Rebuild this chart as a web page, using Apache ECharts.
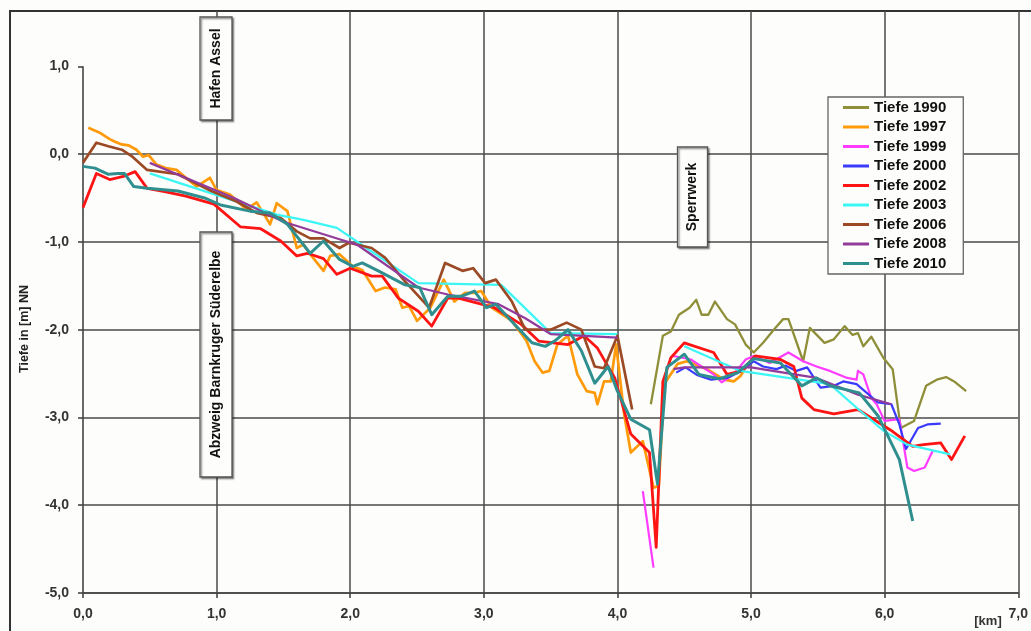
<!DOCTYPE html>
<html><head><meta charset="utf-8">
<script src="https://cdn.jsdelivr.net/npm/echarts@6/dist/echarts.min.js"></script>
<style>html,body{margin:0;padding:0;background:#fdfdfb}#c{width:1031px;height:631px}</style>
</head><body><div id="c"></div>
<script>
// ---- data (x in km, y = depth in m NN) ----
const xTicks = [0, 1, 2, 3, 4, 5, 6, 7];
const yTicks = [-5, -4, -3, -2, -1, 0, 1];
const seriesNames = ['Tiefe 1990','Tiefe 1997','Tiefe 1999','Tiefe 2000','Tiefe 2002','Tiefe 2003','Tiefe 2006','Tiefe 2008','Tiefe 2010'];

const t1990 = [[4.25,-2.85],[4.34,-2.07],[4.40,-2.02],[4.46,-1.83],[4.54,-1.75],[4.59,-1.66],[4.63,-1.83],[4.68,-1.83],[4.73,-1.68],[4.82,-1.88],[4.88,-1.94],[4.96,-2.17],[5.02,-2.26],[5.09,-2.15],[5.17,-2.00],[5.24,-1.88],[5.28,-1.88],[5.39,-2.36],[5.44,-1.98],[5.55,-2.15],[5.62,-2.11],[5.70,-1.96],[5.76,-2.06],[5.80,-2.04],[5.84,-2.19],[5.90,-2.08],[5.99,-2.32],[6.06,-2.45],[6.12,-3.12],[6.22,-3.04],[6.31,-2.64],[6.39,-2.57],[6.46,-2.54],[6.52,-2.59],[6.61,-2.70]];
const t1997 = [[0.04,0.30],[0.13,0.24],[0.20,0.17],[0.24,0.14],[0.29,0.11],[0.34,0.10],[0.40,0.05],[0.45,-0.03],[0.49,-0.01],[0.55,-0.12],[0.62,-0.16],[0.70,-0.18],[0.77,-0.27],[0.85,-0.37],[0.95,-0.27],[1.00,-0.41],[1.10,-0.46],[1.16,-0.54],[1.22,-0.63],[1.30,-0.55],[1.40,-0.80],[1.45,-0.56],[1.53,-0.65],[1.60,-1.07],[1.65,-1.03],[1.70,-1.14],[1.80,-1.33],[1.85,-1.16],[1.92,-1.14],[2.02,-1.28],[2.09,-1.32],[2.19,-1.56],[2.26,-1.52],[2.34,-1.54],[2.39,-1.75],[2.44,-1.73],[2.50,-1.90],[2.60,-1.75],[2.70,-1.43],[2.78,-1.68],[2.86,-1.58],[2.93,-1.58],[2.98,-1.56],[3.06,-1.75],[3.21,-1.90],[3.32,-2.13],[3.38,-2.36],[3.44,-2.49],[3.49,-2.47],[3.55,-2.17],[3.63,-2.07],[3.70,-2.51],[3.77,-2.70],[3.83,-2.72],[3.85,-2.85],[3.90,-2.59],[3.95,-2.59],[3.99,-2.17],[4.05,-2.96],[4.10,-3.40],[4.19,-3.27],[4.27,-3.80],[4.31,-3.78],[4.35,-2.62],[4.45,-2.39],[4.52,-2.36],[4.67,-2.45],[4.80,-2.57],[4.87,-2.59],[4.92,-2.53],[4.98,-2.38]];
const t1999 = [[4.19,-3.84],[4.27,-4.71],[4.35,'-'],[4.42,-2.30],[4.55,-2.34],[4.72,-2.51],[4.78,-2.60],[4.87,-2.51],[4.96,-2.34],[5.02,-2.30],[5.14,-2.38],[5.28,-2.26],[5.39,-2.36],[5.49,-2.42],[5.59,-2.47],[5.72,-2.55],[5.79,-2.57],[5.80,-2.47],[5.84,-2.51],[5.90,-2.78],[5.94,-2.85],[6.00,-3.04],[6.11,-3.02],[6.17,-3.57],[6.22,-3.61],[6.30,-3.57],[6.36,-3.38]];
const t2000 = [[4.44,-2.49],[4.51,-2.43],[4.60,-2.52],[4.70,-2.57],[4.82,-2.55],[4.93,-2.47],[5.02,-2.36],[5.09,-2.42],[5.19,-2.45],[5.26,-2.41],[5.34,-2.47],[5.42,-2.43],[5.52,-2.66],[5.62,-2.64],[5.69,-2.59],[5.79,-2.62],[5.95,-2.83],[6.05,-2.85],[6.11,-3.08],[6.16,-3.36],[6.25,-3.12],[6.32,-3.08],[6.42,-3.07]];
const t2002 = [[0.00,-0.61],[0.10,-0.22],[0.20,-0.29],[0.31,-0.25],[0.39,-0.20],[0.48,-0.39],[0.62,-0.43],[0.77,-0.48],[0.98,-0.57],[1.18,-0.83],[1.33,-0.85],[1.48,-0.99],[1.60,-1.16],[1.68,-1.13],[1.80,-1.19],[1.90,-1.37],[2.00,-1.30],[2.16,-1.39],[2.24,-1.39],[2.36,-1.64],[2.51,-1.79],[2.61,-1.96],[2.73,-1.64],[2.81,-1.64],[2.96,-1.70],[3.08,-1.75],[3.28,-1.94],[3.41,-2.13],[3.63,-2.17],[3.75,-2.07],[3.85,-2.21],[3.98,-2.55],[4.10,-3.19],[4.24,-3.40],[4.29,-4.48],[4.34,-2.59],[4.40,-2.32],[4.50,-2.15],[4.72,-2.26],[4.82,-2.51],[4.93,-2.47],[5.03,-2.30],[5.22,-2.34],[5.32,-2.42],[5.38,-2.78],[5.47,-2.91],[5.62,-2.96],[5.80,-2.91],[6.04,-3.14],[6.21,-3.33],[6.29,-3.31],[6.42,-3.29],[6.50,-3.48],[6.60,-3.21]];
const t2003 = [[0.50,-0.22],[1.45,-0.69],[1.65,-0.75],[1.90,-0.84],[2.16,-1.11],[2.51,-1.47],[3.13,-1.49],[3.46,-1.98],[3.50,-2.04],[4.00,-2.05],[4.25,'-'],[4.50,-2.19],[4.92,-2.47],[5.59,-2.62],[5.79,-2.89],[5.99,-3.15],[6.17,-3.31],[6.49,-3.42]];
const t2006 = [[0.00,-0.10],[0.10,0.13],[0.19,0.09],[0.29,0.05],[0.37,-0.03],[0.48,-0.18],[0.71,-0.23],[0.96,-0.42],[1.15,-0.54],[1.30,-0.67],[1.48,-0.73],[1.60,-0.88],[1.70,-0.96],[1.80,-0.96],[1.92,-1.07],[1.99,-1.01],[2.16,-1.07],[2.26,-1.18],[2.41,-1.45],[2.59,-1.75],[2.71,-1.24],[2.84,-1.33],[2.92,-1.30],[3.01,-1.47],[3.09,-1.43],[3.21,-1.68],[3.31,-2.00],[3.50,-2.00],[3.62,-1.92],[3.73,-2.00],[3.83,-2.42],[3.90,-2.44],[4.00,-2.07],[4.11,-2.91]];
const t2008 = [[0.50,-0.10],[1.13,-0.50],[1.50,-0.77],[1.92,-0.97],[2.05,-1.03],[2.51,-1.52],[2.73,-1.60],[3.11,-1.71],[3.31,-1.87],[3.50,-2.05],[4.00,-2.09],[4.20,'-'],[4.42,-2.45],[4.50,-2.43],[5.00,-2.43],[5.49,-2.55],[5.80,-2.74],[6.05,-2.85]];
const t2010 = [[0.00,-0.14],[0.09,-0.16],[0.19,-0.23],[0.26,-0.22],[0.31,-0.22],[0.38,-0.37],[0.48,-0.39],[0.71,-0.42],[0.91,-0.50],[1.03,-0.58],[1.25,-0.65],[1.40,-0.67],[1.53,-0.80],[1.70,-1.13],[1.80,-0.99],[1.92,-1.20],[2.02,-1.28],[2.09,-1.24],[2.21,-1.33],[2.41,-1.49],[2.52,-1.52],[2.61,-1.83],[2.73,-1.62],[2.83,-1.62],[2.93,-1.56],[3.02,-1.75],[3.09,-1.71],[3.28,-2.02],[3.36,-2.15],[3.46,-2.19],[3.53,-2.13],[3.63,-2.00],[3.73,-2.24],[3.83,-2.61],[3.93,-2.42],[4.00,-2.70],[4.10,-3.02],[4.24,-3.14],[4.30,-3.76],[4.37,-2.43],[4.50,-2.28],[4.61,-2.51],[4.76,-2.56],[4.90,-2.49],[5.02,-2.33],[5.22,-2.38],[5.38,-2.64],[5.49,-2.55],[5.59,-2.64],[5.81,-2.72],[5.95,-2.98],[6.11,-3.48],[6.21,-4.18]];

const seriesData = [t1990, t1997, t1999, t2000, t2002, t2003, t2006, t2008, t2010];
const seriesColors = ['#8f8f3a','#ff9a0a','#ff3cff','#3a3aff','#ff1414','#3cf6f6','#9c4a26','#923b9b','#2f8f8f'];
const seriesWidths = [2.3, 2.7, 2.2, 2.2, 2.8, 2.2, 2.7, 2.2, 3];

const FONT = "'Liberation Sans', Arial, sans-serif";
const GRID = '#4a4a4a';
const BG = '#fdfdfb';
const fmt = v => v.toFixed(1).replace('.', ',');

const chart = echarts.init(document.getElementById('c'));

const series = seriesNames.map((n, i) => ({
  name: n, type: 'line', data: seriesData[i], showSymbol: false, symbol: 'none',
  color: seriesColors[i], connectNulls: false, z: 2 + i,
  lineStyle: { color: seriesColors[i], width: seriesWidths[i], join: 'round' }
}));
// vertical axis line from -5 to 1 at x = 0
series.push({
  name: 'axis', type: 'line', data: [], silent: true,
  markLine: { silent: true, symbol: 'none', animation: false, label: { show: false },
    lineStyle: { color: '#444', width: 1.6, type: 'solid' },
    data: [[{ coord: [xTicks[0], yTicks[0]] }, { coord: [xTicks[0], yTicks[yTicks.length - 1]] }]] }
});

function box(cx, cy, w, h, text) {
  return {
    type: 'group', z: 100, children: [
      { type: 'rect', shape: { x: cx - w / 2, y: cy - h / 2, width: w, height: h },
        style: { fill: BG, stroke: '#555', lineWidth: 1.3, shadowColor: 'rgba(0,0,0,0.45)', shadowOffsetX: 1.5, shadowOffsetY: 1.5, shadowBlur: 1.5 }, z: 100 },
      { type: 'text', x: cx, y: cy, rotation: Math.PI / 2, z: 101,
        style: { text: text, font: 'bold 14px ' + FONT, fill: '#111', align: 'center', verticalAlign: 'middle' } }
    ]
  };
}

chart.setOption({
  animation: false,
  backgroundColor: BG,
  grid: { left: 83, right: 9, top: 11, bottom: 38 },
  xAxis: {
    type: 'value', min: 0, max: 7, interval: 1,
    axisLine: { show: true, onZero: false, lineStyle: { color: '#444', width: 1.6 } },
    axisTick: { show: true, length: 5, lineStyle: { color: '#444', width: 1.6 } },
    axisLabel: { margin: 14, color: '#333', fontFamily: FONT, fontWeight: 'bold', fontSize: 14, formatter: fmt },
    splitLine: { show: true, showMinLine: false, lineStyle: { color: GRID, width: 1.5 } }
  },
  yAxis: {
    type: 'value', min: -5, max: 1.63, interval: 1,
    axisLine: { show: false },
    axisTick: { show: true, length: 5, customValues: yTicks, lineStyle: { color: '#444', width: 1.6 } },
    axisLabel: { margin: 14, customValues: yTicks, color: '#333', fontFamily: FONT, fontWeight: 'bold', fontSize: 14,
      formatter: v => (Math.abs(v - Math.round(v)) < 1e-6 ? fmt(v) : '') },
    splitLine: { show: true, showMaxLine: false, lineStyle: { color: GRID, width: 1.5 } }
  },
  legend: {
    data: seriesNames, orient: 'vertical', left: 828, top: 97,
    icon: 'rect', itemWidth: 26, itemHeight: 3, itemGap: 4.5,
    padding: [3, 17, 3, 15], backgroundColor: BG, borderColor: '#666', borderWidth: 1.3,
    selectedMode: false,
    textStyle: { fontFamily: FONT, fontWeight: 'bold', fontSize: 15, color: '#111', lineHeight: 15 }
  },
  graphic: [
    { type: 'rect', z: 0, silent: true, shape: { x: 10, y: 11, width: 1060, height: 660 },
      style: { fill: 'none', stroke: '#333', lineWidth: 2 } },
    box(216, 68.5, 32, 103, 'Hafen Assel'),
    box(216, 354.5, 32, 245, 'Abzweig Barnkruger Süderelbe'),
    box(692.5, 197, 30, 100, 'Sperrwerk'),
    { type: 'text', x: 25, y: 329, rotation: Math.PI / 2, z: 50,
      style: { text: 'Tiefe in [m] NN', font: 'bold 12.5px ' + FONT, fill: '#222', align: 'center', verticalAlign: 'middle' } },
    { type: 'text', x: 988, y: 621, z: 50,
      style: { text: '[km]', font: 'bold 13px ' + FONT, fill: '#333', align: 'center', verticalAlign: 'middle' } }
  ],
  series: series
});
</script></body></html>
